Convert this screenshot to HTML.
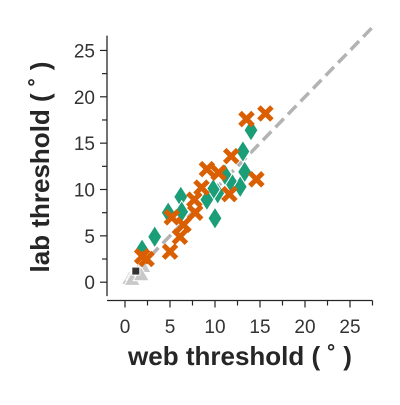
<!DOCTYPE html>
<html><head><meta charset="utf-8"><style>
body{margin:0;background:#fff;font-family:"Liberation Sans",sans-serif}
svg text{font-family:"Liberation Sans",sans-serif}
</style></head><body>
<svg id="chart" width="400" height="400" xmlns="http://www.w3.org/2000/svg">
<line id="diag" stroke="#b3b3b3" stroke-width="3.5" stroke-dasharray="12,6"/>
<g id="pts"></g>
<g id="axes"></g>
<text x="240" y="365" text-anchor="middle" font-size="26" font-weight="bold" fill="#262626">web threshold ( ˚ )</text>
<text transform="translate(49,167) rotate(-90)" text-anchor="middle" font-size="26" font-weight="bold" fill="#262626">lab threshold ( ˚ )</text>
</svg>
<script>
const xTicks=[0,5,10,15,20,25];
const yTicks=[0,5,10,15,20,25];
const orangeX=[13.5,15.6,11.8,9.1,10.4,14.6,8.5,7.7,11.6,7.8,5.2,6.5,6.1,5.0,1.9,2.4];
const orangeY=[17.6,18.2,13.6,12.2,11.8,11.1,10.2,8.9,9.5,7.5,7.0,6.2,4.9,3.3,2.8,2.5];
const greenX=[14.0,13.1,13.3,12.8,11.7,10.3,9.8,9.1,10.0,6.2,6.3,4.8,3.3,1.9,11.1];
const greenY=[16.4,14.1,11.9,10.3,10.9,9.6,10.0,8.9,6.9,9.2,7.6,7.5,4.9,3.5,11.6];
const grayX=[0.5,1.0,1.5,2.0,0.8,1.8];
const grayY=[0.4,0.9,1.3,1.7,0.3,0.8];
const blackX=[1.2];
const blackY=[1.2];
const sx=v=>125+v*9, sy=v=>282.2-v*9.27;
const NS="http://www.w3.org/2000/svg";
const svg=document.getElementById('chart');
function mk(t,a,p){const e=document.createElementNS(NS,t);for(const k in a)e.setAttribute(k,a[k]);(p||svg).appendChild(e);return e;}
const ax=document.getElementById('axes'),pts=document.getElementById('pts');
const d=document.getElementById('diag');
d.setAttribute('x1',sx(0));d.setAttribute('y1',sy(0));
d.setAttribute('x2',sx(27.5));d.setAttribute('y2',sy(27.5));
let s=mk('line',{x1:107,y1:sy(26.6),x2:107,y2:sy(-1.5),stroke:'#262626','stroke-width':1.3},ax);


s=mk('line',{x1:sx(-2),y1:300.5,x2:sx(27.5),y2:300.5,stroke:'#262626','stroke-width':1.3},ax);


for(let v=0;v<=27.5;v+=2.5){const maj=v%5===0;
 mk('line',{x1:sx(v),y1:300.5,x2:sx(v),y2:300.5+(maj?7:5),stroke:'#262626','stroke-width':1.2},ax);
 if(v<=26.6) mk('line',{x1:107,y1:sy(v),x2:107-(maj?7:5),y2:sy(v),stroke:'#262626','stroke-width':1.2},ax);}
xTicks.forEach(v=>{const t=mk('text',{x:sx(v),y:333,'text-anchor':'middle','font-size':19,fill:'#333'},ax);t.textContent=v;
 
 });
yTicks.forEach(v=>{const t=mk('text',{x:95,y:sy(v)+7,'text-anchor':'end','font-size':19,fill:'#333'},ax);t.textContent=v;
 
 });
grayX.forEach((v,i)=>{const x=sx(v),y=sy(grayY[i]);
 const e=mk('polygon',{points:`${x},${y-8} ${x-8},${y+6} ${x+8},${y+6}`,fill:'#c8c8c8',stroke:'#fff','stroke-width':1},pts);
 
 });
blackX.forEach((v,i)=>{const x=sx(v),y=sy(blackY[i]);
 const e=mk('rect',{x:x-4,y:y-4,width:8,height:8,fill:'#333',stroke:'#fff','stroke-width':1},pts);
 
 });
greenX.forEach((v,i)=>{const x=sx(v),y=sy(greenY[i]);
 const e=mk('polygon',{points:`${x},${y-11} ${x+7},${y} ${x},${y+11} ${x-7},${y}`,fill:'#1b9e77',stroke:'#fff','stroke-width':1},pts);
 
 });
orangeX.forEach((v,i)=>{const x=sx(v),y=sy(orangeY[i]);
 const e=mk('path',{d:`M${x-6.5},${y-6.5}L${x+6.5},${y+6.5}M${x+6.5},${y-6.5}L${x-6.5},${y+6.5}`,stroke:'#d95f02','stroke-width':5,'stroke-linecap':'butt'},pts);
 
 });
</script>
</body></html>
